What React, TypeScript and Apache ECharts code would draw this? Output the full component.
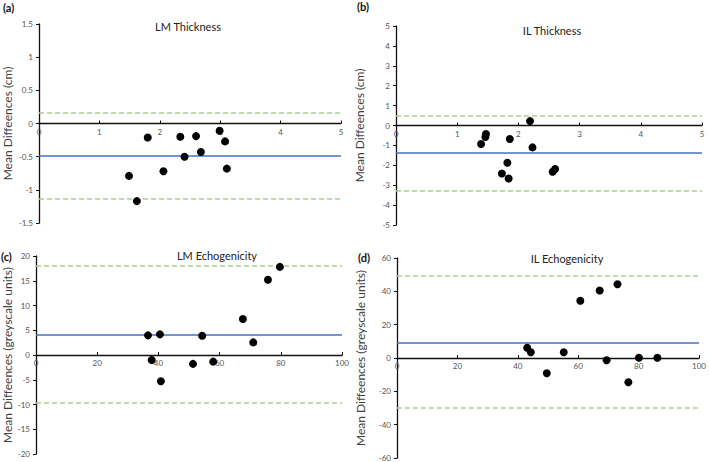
import React, { useEffect, useRef } from "react";
import * as echarts from "echarts";

// Panel (a) LM Thickness
const aX = [1.49, 1.62, 1.8, 2.06, 2.34, 2.41, 2.6, 2.68, 2.99, 3.08, 3.11];
const aY = [-0.79, -1.17, -0.21, -0.72, -0.2, -0.5, -0.19, -0.43, -0.11, -0.27, -0.68];
// Panel (b) IL Thickness
const bX = [1.39, 1.46, 1.47, 1.73, 1.82, 1.84, 1.86, 2.19, 2.23, 2.56, 2.6];
const bY = [-0.93, -0.58, -0.43, -2.41, -1.87, -2.66, -0.68, 0.22, -1.1, -2.32, -2.19];
// Panel (c) LM Echogenicity
const cX = [36.6, 37.8, 40.5, 40.8, 51.3, 54.3, 57.9, 67.6, 71.0, 75.8, 79.7];
const cY = [3.97, -1.0, 4.17, -5.3, -1.8, 3.9, -1.34, 7.26, 2.55, 15.2, 17.8];
// Panel (d) IL Echogenicity
const dX = [43.1, 44.3, 49.6, 55.2, 60.7, 67.1, 69.4, 73.0, 76.6, 80.1, 86.2];
const dY = [6.2, 3.4, -9.2, 3.4, 34.3, 40.5, -1.4, 44.3, -14.6, 0.2, 0.2];

const panelTitles = ["LM Thickness", "IL Thickness", "LM Echogenicity", "IL Echogenicity"];
const panelLetters = ["(a)", "(b)", "(c)", "(d)"];
const yNames = [
  "Mean Diffeences (cm)",
  "Mean Diffeences (cm)",
  "Mean Diffeences (greyscale units)",
  "Mean Diffeences (greyscale units)",
];
const meanDiff = [-0.48, -1.37, 4.17, 9.4];
const upperLoA = [0.16, 0.5, 18.1, 49.5];
const lowerLoA = [-1.13, -3.26, -9.74, -30.1];
const xMax = [5, 5, 100, 100];
const xInterval = [1, 1, 20, 20];
const yMin = [-1.5, -5, -20, -60];
const yMax = [1.5, 5, 20, 60];
const yInterval = [0.5, 1, 5, 20];

const xs = [aX, bX, cX, dX];
const ys = [aY, bY, cY, dY];

const grids = [
  { left: 36, top: 24, width: 305, height: 199 },
  { left: 396, top: 26, width: 306, height: 199 },
  { left: 36, top: 256, width: 306, height: 198 },
  { left: 397, top: 258, width: 305, height: 200 },
];
const nameGaps = [26, 31, 23, 31];
const titlePos = [
  [188, 26],
  [552, 30],
  [217, 255],
  [567, 258],
];
const letterPos = [
  [3, 7],
  [357, 6],
  [1, 256],
  [358, 257],
];

const FONT = "Lato, 'Open Sans', sans-serif";

export default function App() {
  const ref = useRef<HTMLDivElement>(null);
  useEffect(() => {
    if (!ref.current) return;
    const chart = echarts.init(ref.current, undefined, { renderer: "svg" });
    const xAxis = grids.map((g, i) => ({
      type: "value",
      gridIndex: i,
      min: 0,
      max: xMax[i],
      interval: xInterval[i],
      position: "bottom",
      // place the x axis (line, ticks, labels) on the y = 0 level of its panel
      offset: -g.height * (0 - yMin[i]) / (yMax[i] - yMin[i]),
      splitLine: { show: false },
      axisLine: { show: true, onZero: false, lineStyle: { color: "#111", width: 1.3 } },
      axisTick: { show: true, inside: true, length: 3, lineStyle: { color: "#111" } },
      axisLabel: { fontSize: 8, color: "#555", margin: 4, fontFamily: FONT },
    }));
    const yAxis = grids.map((_, i) => ({
      type: "value",
      gridIndex: i,
      min: yMin[i],
      max: yMax[i],
      interval: yInterval[i],
      splitLine: { show: false },
      axisLine: { show: true, onZero: false, lineStyle: { color: "#111", width: 1.3 } },
      axisTick: { show: true, length: 3, lineStyle: { color: "#111" } },
      axisLabel: { fontSize: 8, color: "#555", margin: 6, fontFamily: FONT },
      name: yNames[i],
      nameLocation: "middle",
      nameGap: nameGaps[i],
      nameTextStyle: { fontSize: 12, color: "#404040", fontFamily: FONT },
    }));
    const series = grids.map((_, i) => ({
      type: "scatter",
      xAxisIndex: i,
      yAxisIndex: i,
      data: xs[i].map((x, k) => [x, ys[i][k]]),
      symbolSize: 8,
      itemStyle: { color: "#000", opacity: 1 },
      z: 5,
      markLine: {
        silent: true,
        symbol: "none",
        label: { show: false },
        data: [
          { yAxis: meanDiff[i], lineStyle: { color: "#4472C4", width: 1.6, type: "solid" } },
          { yAxis: upperLoA[i], lineStyle: { color: "#A9D18E", width: 1.6, type: [5, 3] } },
          { yAxis: lowerLoA[i], lineStyle: { color: "#A9D18E", width: 1.6, type: [5, 3] } },
        ],
      },
    }));
    const graphic: any[] = [];
    panelTitles.forEach((t, i) => {
      graphic.push({
        type: "text",
        x: titlePos[i][0],
        y: titlePos[i][1],
        style: {
          text: t,
          fontSize: 11,
          fill: "#222",
          fontFamily: FONT,
          textAlign: "center",
          textVerticalAlign: "middle",
        },
      });
      graphic.push({
        type: "text",
        x: letterPos[i][0],
        y: letterPos[i][1],
        style: {
          text: panelLetters[i],
          fontSize: 11,
          fontWeight: "bold",
          fill: "#111",
          fontFamily: FONT,
          textAlign: "left",
          textVerticalAlign: "middle",
        },
      });
    });
    chart.setOption({
      animation: false,
      backgroundColor: "#fff",
      grid: grids,
      xAxis,
      yAxis,
      series,
      graphic,
    });
    return () => chart.dispose();
  }, []);
  return (
    <div
      ref={ref}
      style={{ position: "fixed", left: 0, top: 0, width: 709, height: 462 }}
    />
  );
}
